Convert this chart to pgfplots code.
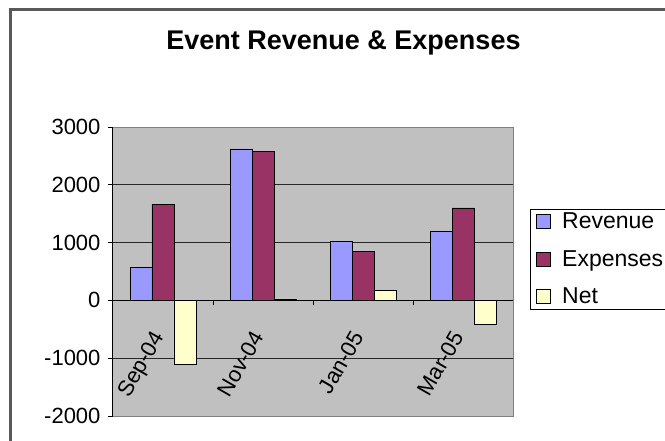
\documentclass[border=0pt]{standalone}
\usepackage{fontspec}
\setmainfont{Liberation Sans}
\usepackage{pgfplots}
\pgfplotsset{compat=1.18}
\definecolor{rev}{HTML}{9999FF}
\definecolor{expn}{HTML}{993366}
\definecolor{netc}{HTML}{FFFFCC}
\definecolor{pa}{HTML}{C0C0C0}
\begin{document}
\begin{tikzpicture}[x=1pt,y=1pt]
\useasboundingbox (0,0) rectangle (665,-441);
\draw[line width=3pt, black!65] (10,-450) -- (10,-9.5) -- (680,-9.5);
\node[anchor=base, font=\fontsize{27}{32}\selectfont\bfseries] at (343.5,-50) {Event Revenue \& Expenses};
\begin{axis}[
  at={(113pt,-416pt)}, anchor=south west,
  scale only axis, width=400pt, height=289pt,
  xmin=-0.5, xmax=3.5, ymin=-2000, ymax=3000,
  axis x line=middle, axis y line=left,
  axis line style={-, draw=black, line width=1pt},
  hide obscured x ticks=false, hide obscured y ticks=false,
  axis background/.style={fill=pa},
  ybar=0pt, bar width=22pt,
  ytick={-2000,-1000,0,1000,2000,3000},
  xtick={0,1,2,3},
  xticklabels={Sep-04,Nov-04,Jan-05,Mar-05},
  minor xtick={-0.5,0.5,1.5,2.5,3.5},
  major x tick style={draw=none},
  minor x tick style={draw=black, line width=1pt},
  tick align=outside,
  major tick length=5pt, minor tick length=5pt,
  ytick style={draw=black, line width=1pt},
  ymajorgrids, grid style={draw=black!85, line width=1pt},
  /pgf/number format/assume math mode=true,
  /pgf/number format/1000 sep={},
  ticklabel style={font=\fontsize{22}{26}\selectfont},
  yticklabel style={xshift=-4pt},
  xticklabel style={xshift=-13pt, yshift=-19pt, rotate=60, anchor=north east},
  legend style={at={(1.0425,0.543)}, anchor=west, draw=black, line width=0.8pt,
    fill=white, font=\fontsize{23}{27}\selectfont, row sep=18pt, inner xsep=6pt, inner ysep=3pt,
    nodes={inner ysep=1pt},
    /tikz/every odd column/.append style={column sep=9pt}},
  legend cell align=left,
  legend image code/.code={\draw[#1, draw=black, line width=0.8pt] (0pt,-7pt) rectangle (14pt,7pt);},
  after end axis/.code={\draw[black!50, line width=1pt] (rel axis cs:0,1) -- (rel axis cs:1,1) -- (rel axis cs:1,0) -- (rel axis cs:0,0);},
]
\addplot[fill=rev, draw=black, line width=0.8pt] coordinates {(0,565) (1,2620) (2,1015) (3,1190)};
\addplot[fill=expn, draw=black, line width=0.8pt] coordinates {(0,1665) (1,2570) (2,843) (3,1600)};
\addplot[fill=netc, draw=black, line width=0.8pt] coordinates {(0,-1100) (1,25) (2,172) (3,-420)};
\legend{Revenue, Expenses, Net}
\end{axis}
\end{tikzpicture}
\end{document}
